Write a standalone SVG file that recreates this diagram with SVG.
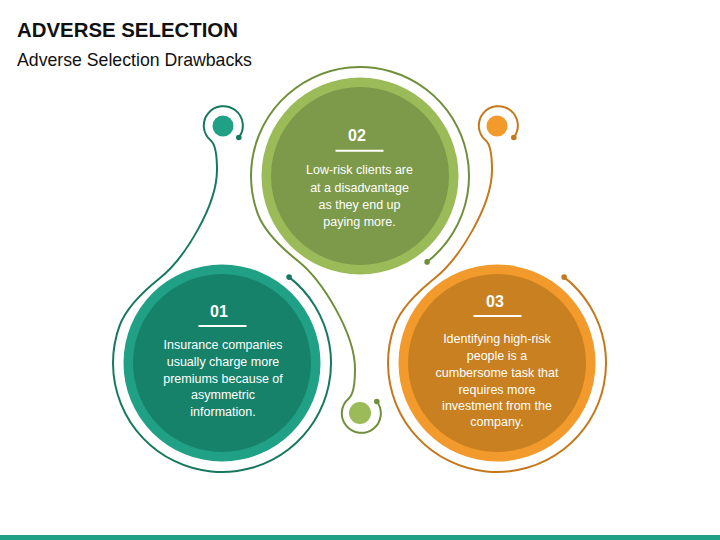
<svg xmlns="http://www.w3.org/2000/svg" xmlns:xlink="http://www.w3.org/1999/xlink" width="720" height="540" viewBox="0 0 720 540">
  <style>
    .title { font-family: "Liberation Sans", Arial, sans-serif; font-weight: bold; font-size: 20.4px; fill: #111111; }
    .subtitle { font-family: "Liberation Sans", Arial, sans-serif; font-size: 17.7px; fill: #111111; }
    .num { font-family: "Liberation Sans", Arial, sans-serif; font-weight: bold; font-size: 16px; fill: #ffffff; text-anchor: middle; }
    .body { font-family: "Liberation Sans", Arial, sans-serif; font-size: 12.5px; fill: #ffffff; text-anchor: middle; }
    .rule { stroke: #ffffff; stroke-width: 2; }
    .line { fill: none; stroke-width: 2; stroke-linecap: round; }
    .teal .line { stroke: #17785F; }
    .teal .dot { fill: #17785F; }
    .green .line { stroke: #6F8F3A; }
    .green .dot { fill: #6F8F3A; }
    .orange .line { stroke: #C4781A; }
    .orange .dot { fill: #C4781A; }
  </style>
  <defs>
    <path id="swirl" d="M 289.1 277.1 A 109 109 0 1 1 119.6 325.7 C 126 308 145 290 160 278 C 185 258 217 205 217 170 C 217 155 215.4 144.5 210.8 140.6 A 19.5 19.5 0 1 1 238.8 137.5"/>
  </defs>

  <rect x="0" y="0" width="720" height="540" fill="#ffffff"/>

  <g id="header">
    <text class="title" x="17" y="37">ADVERSE SELECTION</text>
    <text class="subtitle" x="17" y="66">Adverse Selection Drawbacks</text>
  </g>

  <g id="connectors">
    <g id="connector-01" class="teal">
      <use xlink:href="#swirl" href="#swirl" class="line"/>
      <circle class="dot" cx="289.1" cy="277.1" r="2.8"/>
      <circle class="dot" cx="238.8" cy="137.5" r="2.8"/>
      <circle cx="223" cy="126" r="10.5" fill="#20A085"/>
    </g>
    <g id="connector-02" class="green">
      <use xlink:href="#swirl" href="#swirl" class="line" transform="translate(138 539) scale(1 -1)"/>
      <circle class="dot" cx="427.1" cy="261.9" r="2.8"/>
      <circle class="dot" cx="376.8" cy="401.5" r="2.8"/>
      <circle cx="360" cy="413" r="11" fill="#9BBB59"/>
    </g>
    <g id="connector-03" class="orange">
      <use xlink:href="#swirl" href="#swirl" class="line" transform="translate(275 0)"/>
      <circle class="dot" cx="564.1" cy="277.1" r="2.8"/>
      <circle class="dot" cx="513.8" cy="137.5" r="2.8"/>
      <circle cx="497" cy="126" r="10.5" fill="#F29A2B"/>
    </g>
  </g>

  <g id="node-01">
    <circle cx="222" cy="363" r="98.5" fill="#20A085"/>
    <circle cx="222" cy="363" r="89" fill="#17826A"/>
    <text class="num" x="219" y="316.5">01</text>
    <line class="rule" x1="198.5" y1="326" x2="246.5" y2="326"/>
    <text class="body" x="223" y="349.4">Insurance companies</text>
    <text class="body" x="223" y="366">usually charge more</text>
    <text class="body" x="223" y="382.7">premiums because of</text>
    <text class="body" x="223" y="399.4">asymmetric</text>
    <text class="body" x="223" y="416">information.</text>
  </g>

  <g id="node-02">
    <circle cx="360" cy="176" r="98.5" fill="#9BBB59"/>
    <circle cx="360" cy="176" r="89" fill="#7C9A49"/>
    <text class="num" x="357" y="140.8">02</text>
    <line class="rule" x1="335.5" y1="150.7" x2="383.5" y2="150.7"/>
    <text class="body" x="359.5" y="174.4">Low-risk clients are</text>
    <text class="body" x="359.5" y="191.7">at a disadvantage</text>
    <text class="body" x="359.5" y="209">as they end up</text>
    <text class="body" x="359.5" y="226.4">paying more.</text>
  </g>

  <g id="node-03">
    <circle cx="497" cy="363" r="98.5" fill="#F29A2B"/>
    <circle cx="497" cy="363" r="89" fill="#C88020"/>
    <text class="num" x="495" y="306.5">03</text>
    <line class="rule" x1="473.5" y1="316" x2="521.5" y2="316"/>
    <text class="body" x="497" y="342.7">Identifying high-risk</text>
    <text class="body" x="497" y="360">people is a</text>
    <text class="body" x="497" y="377">cumbersome task that</text>
    <text class="body" x="497" y="393.7">requires more</text>
    <text class="body" x="497" y="409.7">investment from the</text>
    <text class="body" x="497" y="426.4">company.</text>
  </g>

  <rect id="footer-band" x="0" y="535" width="720" height="5" fill="#20A085"/>
</svg>
